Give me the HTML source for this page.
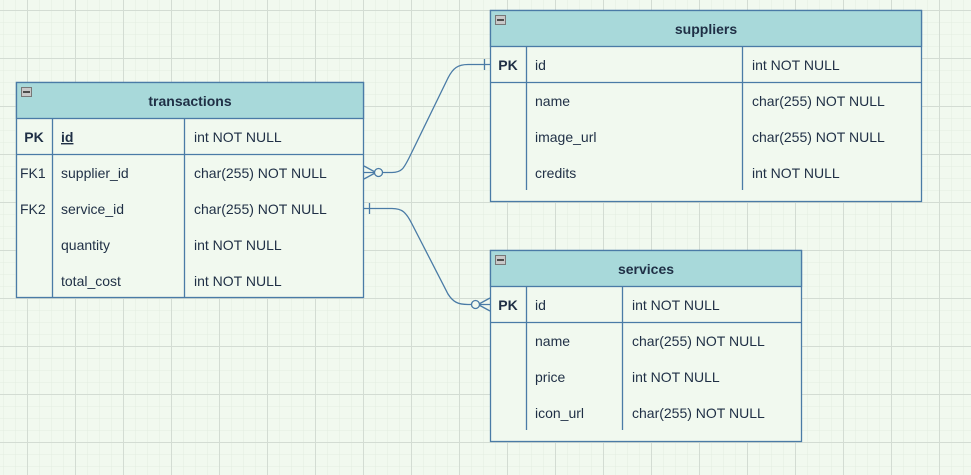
<!DOCTYPE html>
<html><head><meta charset="utf-8"><style>
body{margin:0;width:971px;height:475px;overflow:hidden;background:#f1f9ef}
svg{display:block}
text{font-family:"Liberation Sans",sans-serif;font-size:14px;fill:#1f2f45}
</style></head><body>
<svg width="971" height="475" xmlns="http://www.w3.org/2000/svg">
<defs>
<pattern id="mi" x="3" y="-2" width="12" height="12" patternUnits="userSpaceOnUse"><path d="M0 0H12M0 0V12" stroke="#e2ede0" stroke-width="1" fill="none"/></pattern>
<pattern id="ma" x="27" y="10" width="48" height="48" patternUnits="userSpaceOnUse"><path d="M0 0.5H48M0.5 0V48" stroke="#d3dcd3" stroke-width="1" fill="none"/></pattern>
</defs>
<rect width="971" height="475" fill="url(#mi)"/>
<rect width="971" height="475" fill="url(#ma)"/>
<g stroke="#4a7ba6" stroke-width="1.3" fill="none">
<!-- transactions -->
<rect x="16.5" y="82.5" width="347" height="215" fill="#f1f9ef"/>
<rect x="16.5" y="82.5" width="347" height="36" fill="#a8d9da"/>
<line x1="16" y1="154.5" x2="364" y2="154.5"/>
<line x1="52.5" y1="118" x2="52.5" y2="298"/>
<line x1="184.5" y1="118" x2="184.5" y2="298"/>
<!-- suppliers -->
<rect x="490.5" y="10.5" width="431" height="191" fill="#f1f9ef"/>
<rect x="490.5" y="10.5" width="431" height="36" fill="#a8d9da"/>
<line x1="490" y1="82.5" x2="922" y2="82.5"/>
<line x1="526.5" y1="46" x2="526.5" y2="190"/>
<line x1="742.5" y1="46" x2="742.5" y2="190"/>
<!-- services -->
<rect x="490.5" y="250.5" width="311" height="191" fill="#f1f9ef"/>
<rect x="490.5" y="250.5" width="311" height="36" fill="#a8d9da"/>
<line x1="490" y1="322.5" x2="802" y2="322.5"/>
<line x1="526.5" y1="286" x2="526.5" y2="430"/>
<line x1="622.5" y1="286" x2="622.5" y2="430"/>
<!-- connectors -->
<path d="M364 172.5H392C402 172.5 404 168 410 156L448 78C453 68 458 64.5 468 64.5H490"/>
<line x1="484.5" y1="59" x2="484.5" y2="70"/>
<path d="M364 166L376 172.5L364 179"/>
<circle cx="378.5" cy="172.5" r="4" fill="#f1f9ef"/>
<path d="M364 208.5H392C402 208.5 406 212 412 224L448 294C453 302 458 304.5 468 304.5H490"/>
<line x1="369.5" y1="203" x2="369.5" y2="214"/>
<path d="M490 298L478 304.5L490 311"/>
<circle cx="475.5" cy="304.5" r="4" fill="#f1f9ef"/>
</g>
<g fill="#c8c8c8" stroke="#777" stroke-width="1">
<rect x="21.5" y="87.5" width="10" height="9"/><rect x="495.5" y="15.5" width="10" height="9"/><rect x="495.5" y="255.5" width="10" height="9"/>
</g>
<g stroke="#222" stroke-width="1.5"><line x1="23" y1="92" x2="30" y2="92"/><line x1="497" y1="20" x2="504" y2="20"/><line x1="497" y1="260" x2="504" y2="260"/></g>
<g font-weight="bold" text-anchor="middle">
<text x="190" y="106">transactions</text>
<text x="706" y="34">suppliers</text>
<text x="646" y="274">services</text>
<text x="34" y="142">PK</text><text x="508" y="70">PK</text><text x="508" y="310">PK</text>
</g>
<text x="61" y="142" font-weight="bold" text-decoration="underline">id</text>
<text x="194" y="142">int NOT NULL</text>
<text x="20" y="178">FK1</text><text x="61" y="178">supplier_id</text><text x="194" y="178">char(255) NOT NULL</text>
<text x="20" y="214">FK2</text><text x="61" y="214">service_id</text><text x="194" y="214">char(255) NOT NULL</text>
<text x="61" y="250">quantity</text><text x="194" y="250">int NOT NULL</text>
<text x="61" y="286">total_cost</text><text x="194" y="286">int NOT NULL</text>
<text x="535" y="70">id</text><text x="752" y="70">int NOT NULL</text>
<text x="535" y="106">name</text><text x="752" y="106">char(255) NOT NULL</text>
<text x="535" y="142">image_url</text><text x="752" y="142">char(255) NOT NULL</text>
<text x="535" y="178">credits</text><text x="752" y="178">int NOT NULL</text>
<text x="535" y="310">id</text><text x="632" y="310">int NOT NULL</text>
<text x="535" y="346">name</text><text x="632" y="346">char(255) NOT NULL</text>
<text x="535" y="382">price</text><text x="632" y="382">int NOT NULL</text>
<text x="535" y="418">icon_url</text><text x="632" y="418">char(255) NOT NULL</text>
</svg>
</body></html>
